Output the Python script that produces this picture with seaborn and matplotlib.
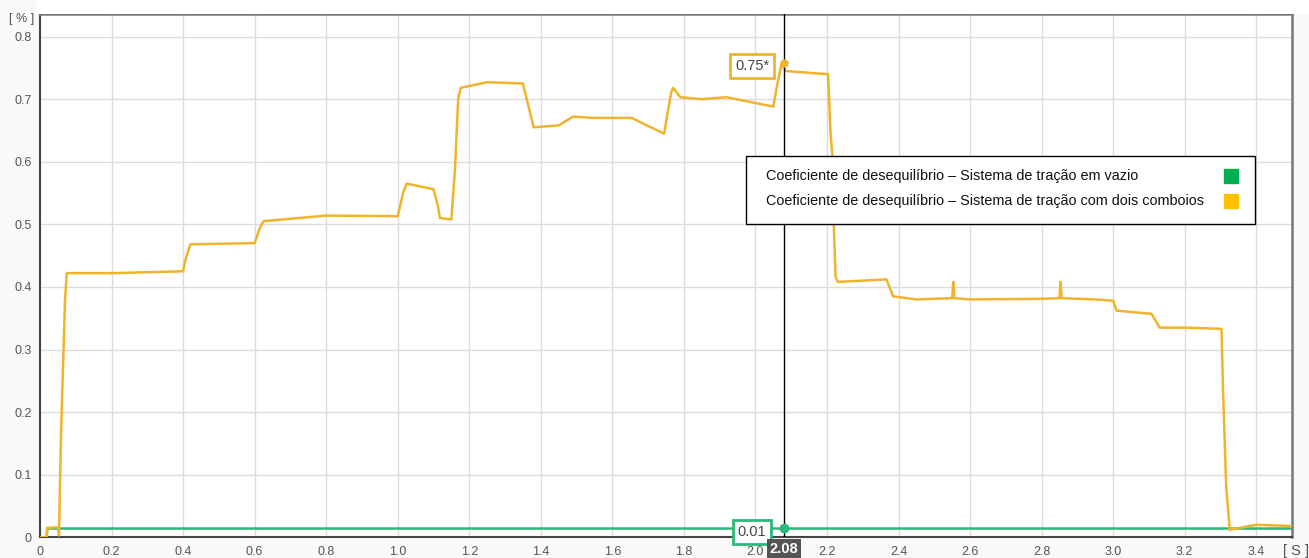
import numpy as np
import pandas as pd
import matplotlib
matplotlib.use('Agg')
import matplotlib.pyplot as plt
import seaborn as sns
from matplotlib.patches import Rectangle

# tempo [s] e coeficiente [%]
t_vazio = [0, 0.019, 0.02, 0.5, 1.0, 1.5, 2.0, 2.08, 2.5, 3.0, 3.5]
v_vazio = [0, 0, 0.014, 0.014, 0.014, 0.014, 0.014, 0.014, 0.014, 0.014, 0.014]

t_comboios = [0, 0.019, 0.02, 0.051, 0.053, 0.059, 0.070, 0.075, 0.20, 0.40,
              0.405, 0.42, 0.60, 0.615, 0.625, 0.80, 1.00, 1.015, 1.025, 1.10,
              1.112, 1.118, 1.15, 1.16, 1.169, 1.176, 1.25, 1.35, 1.365, 1.38,
              1.45, 1.49, 1.55, 1.654, 1.70, 1.745, 1.755, 1.765, 1.77, 1.79,
              1.85, 1.92, 2.05, 2.06, 2.073, 2.085, 2.15, 2.203, 2.21, 2.215,
              2.219, 2.224, 2.23, 2.30, 2.366, 2.385, 2.45, 2.55, 2.553, 2.556,
              2.60, 2.80, 2.85, 2.853, 2.856, 2.95, 3.0, 3.01, 3.05, 3.107,
              3.13, 3.2, 3.303, 3.307, 3.316, 3.326, 3.40, 3.5]
v_comboios = [0, 0, 0.015, 0.016, 0.003, 0.17, 0.38, 0.422, 0.422, 0.425,
              0.44, 0.468, 0.470, 0.495, 0.505, 0.514, 0.513, 0.55, 0.565, 0.556,
              0.53, 0.51, 0.508, 0.587, 0.70, 0.718, 0.727, 0.725, 0.69, 0.655,
              0.658, 0.672, 0.670, 0.670, 0.657, 0.645, 0.68, 0.712, 0.718, 0.703,
              0.700, 0.703, 0.688, 0.72, 0.757, 0.745, 0.742, 0.740, 0.645, 0.61,
              0.50, 0.416, 0.408, 0.41, 0.412, 0.385, 0.380, 0.382, 0.408, 0.382,
              0.380, 0.381, 0.382, 0.408, 0.382, 0.380, 0.378, 0.362, 0.360, 0.357,
              0.335, 0.335, 0.333, 0.24, 0.081, 0.012, 0.02, 0.018]

x_ticks = [0, 0.2, 0.4, 0.6, 0.8, 1.0, 1.2, 1.4, 1.6, 1.8, 2.0, 2.2, 2.4, 2.6, 2.8, 3.0, 3.2, 3.4]
x_labels = ['0', '0.2', '0.4', '0.6', '0.8', '1.0', '1.2', '1.4', '1.6', '1.8',
            '2.0', '2.2', '2.4', '2.6', '2.8', '3.0', '3.2', '3.4']
y_ticks = [0, 0.1, 0.2, 0.3, 0.4, 0.5, 0.6, 0.7, 0.8]
y_labels = ['0', '0.1', '0.2', '0.3', '0.4', '0.5', '0.6', '0.7', '0.8']

legenda = ['Coeficiente de desequilíbrio – Sistema de tração em vazio',
           'Coeficiente de desequilíbrio – Sistema de tração com dois comboios']

cursor_t = 2.08
cursor_vazio = 0.01
cursor_comboios = 0.75

cor_verde = '#2db77b'
cor_laranja = '#f0b42c'

sns.set_style('white')
plt.rcParams['font.family'] = ['Liberation Sans', 'DejaVu Sans']

fig = plt.figure(figsize=(13.09, 5.58), dpi=100, facecolor='#f9f9f9')
fig.patches.append(Rectangle((36 / 1309, 1 - 14 / 558), 1, 14 / 558,
                             transform=fig.transFigure, fc='white', ec='none', zorder=0))
ax = fig.add_axes([40 / 1309, 1 - 537.3 / 558, 1252 / 1309, 523.3 / 558])
ax.set_facecolor('white')

df_v = pd.DataFrame({'t': t_vazio, 'v': v_vazio})
df_c = pd.DataFrame({'t': t_comboios, 'v': v_comboios})
sns.lineplot(data=df_v, x='t', y='v', ax=ax, color=cor_verde, lw=1.8, zorder=3)
sns.lineplot(data=df_c, x='t', y='v', ax=ax, color=cor_laranja, lw=1.8, zorder=4)

ax.set_xlim(0, 3.5)
ax.set_ylim(0, 0.836)
ax.set_xticks(x_ticks)
ax.set_xticklabels(x_labels)
ax.set_yticks(y_ticks)
ax.set_yticklabels(y_labels)
ax.set_xlabel('')
ax.set_ylabel('')
ax.grid(True, color='#dcdcdc', lw=1)
ax.set_axisbelow(True)
ax.tick_params(axis='both', length=3, width=1, color='#333', labelsize=9,
               labelcolor='#555', pad=3)
for s in ['left', 'bottom']:
    ax.spines[s].set_color('#444')
    ax.spines[s].set_linewidth(1.5)
for s in ['top', 'right']:
    ax.spines[s].set_color('#777')
    ax.spines[s].set_linewidth(1.8)

fig.text(22 / 1309, 1 - 19 / 558, '[ % ]', ha='center', va='center', fontsize=9, color='#555')
fig.text(1296 / 1309, 1 - 551 / 558, '[ S ]', ha='center', va='center', fontsize=10.5, color='#555')

# cursor
ax.axvline(cursor_t, color='black', lw=1, zorder=5)
ax.plot([cursor_t], [0.757], 'o', color=cor_laranja, ms=5, zorder=6)
ax.plot([cursor_t], [0.0144], 'o', color=cor_verde, ms=6, zorder=6)
ax.annotate(f'{cursor_comboios:.2f}*', xy=(cursor_t, 0.753), xytext=(-32, 0),
            textcoords='offset pixels', ha='center', va='center', fontsize=10.5,
            color='#444', zorder=7,
            bbox=dict(boxstyle='square,pad=0.35', fc='white', ec=cor_laranja, lw=2))
ax.annotate(f'{cursor_vazio:.2f}', xy=(cursor_t, 0.0144), xytext=(-32, -3.5),
            textcoords='offset pixels', ha='center', va='center', fontsize=10.5,
            color='#444', zorder=7, annotation_clip=False,
            bbox=dict(boxstyle='square,pad=0.35', fc='white', ec=cor_verde, lw=2))
ax.annotate(f'{cursor_t:.2f}', xy=(cursor_t, 0), xycoords=('data', 'axes fraction'),
            xytext=(0, -11.5), textcoords='offset pixels', ha='center', va='center',
            fontsize=10.5, fontweight='bold', color='white', zorder=7,
            annotation_clip=False,
            bbox=dict(boxstyle='square,pad=0.2', fc='#555555', ec='none'))

# legenda
ax.add_patch(Rectangle((0.5637, 0.599), 0.4068, 0.130, transform=ax.transAxes,
                       fc='white', ec='black', lw=1, zorder=8))
for label, y, cor in zip(legenda, [0.690, 0.643], ['#00b050', '#ffc000']):
    ax.text(0.580, y, label, transform=ax.transAxes, ha='left', va='center',
            fontsize=10.4, color='#111', zorder=9)
    ax.plot([0.951], [y], marker='s', ms=10.5, color=cor, transform=ax.transAxes,
            zorder=9, clip_on=False)

fig.savefig('out.png', dpi=100, facecolor=fig.get_facecolor())
